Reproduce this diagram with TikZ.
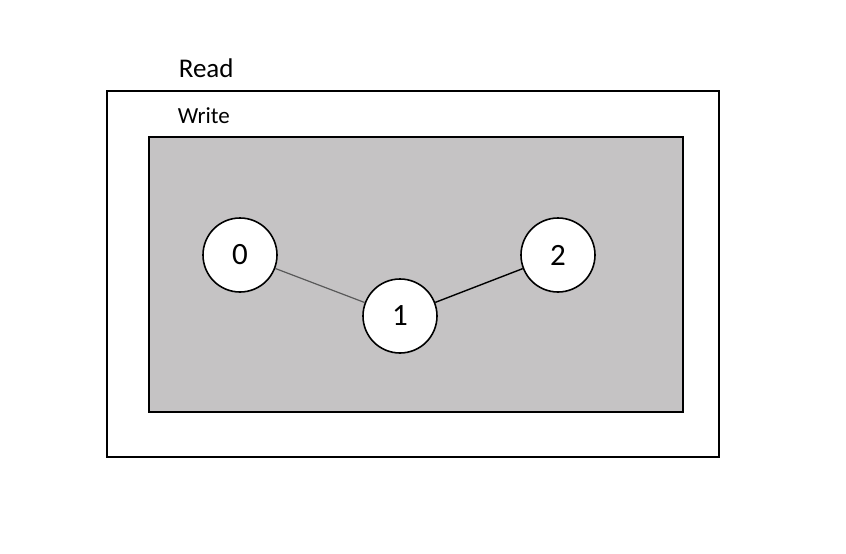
\documentclass[tikz,border=0pt]{standalone}
\usepackage{fontspec}
\setmainfont{Carlito}
\definecolor{panelgray}{HTML}{C5C3C4}
\begin{document}
\begin{tikzpicture}[x=1pt,y=-1pt,line width=1.6pt,
    vertex/.style={circle,draw,fill=white,minimum size=74pt,inner sep=0pt,font=\fontsize{31}{36}\selectfont}]
    \useasboundingbox (0,0) rectangle (846,554);
    \draw (107,91) rectangle (719,457);
    \draw[fill=panelgray] (149,137) rectangle (683,412);
    \node[anchor=base west,inner sep=0pt,font=\fontsize{27}{32}\selectfont] (read) at (178,77) {Read};
    \node[anchor=base west,inner sep=0pt,font=\fontsize{23}{27}\selectfont] (write) at (177,123) {Write};
    \node[vertex] (v0) at (240,255) {0};
    \node[vertex] (v1) at (400,316) {1};
    \node[vertex] (v2) at (558,255) {2};
    \draw[line width=1.2pt,black!65] (v0) -- (v1);
    \draw[line width=1.4pt] (v1) -- (v2);
\end{tikzpicture}
\end{document}
